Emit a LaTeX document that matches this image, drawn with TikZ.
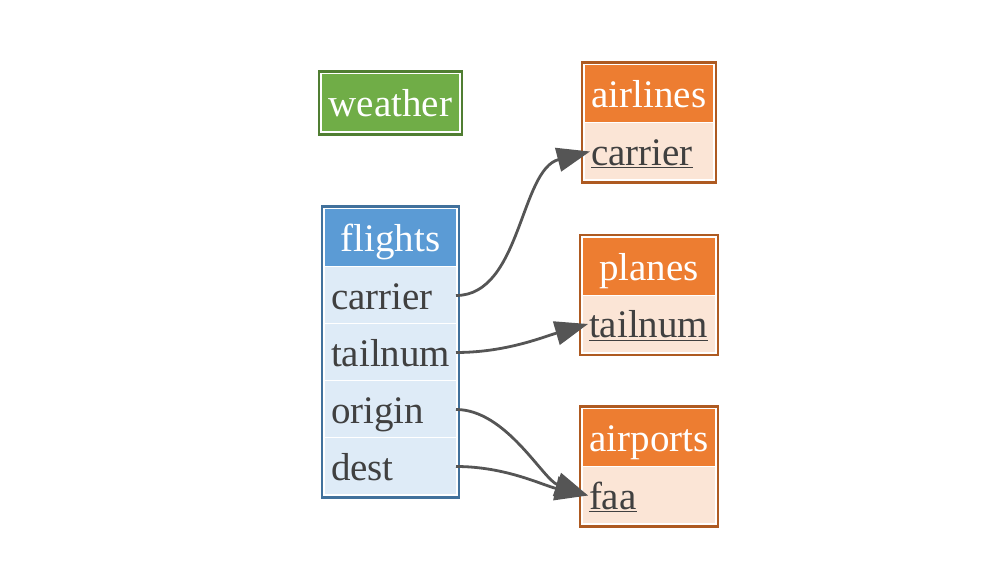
\documentclass[tikz,border=0pt]{standalone}
\usepackage{fontspec}
\setmainfont{Liberation Serif}
\usepackage{tikz}
\usetikzlibrary{arrows.meta, positioning, fit}

\definecolor{wfill}{HTML}{70AD47}
\definecolor{wline}{HTML}{507E32}
\definecolor{fhead}{HTML}{5B9BD5}
\definecolor{fbody}{HTML}{DEEBF7}
\definecolor{fline}{HTML}{41719C}
\definecolor{ohead}{HTML}{ED7D31}
\definecolor{obody}{HTML}{FBE5D6}
\definecolor{oline}{HTML}{AE5A21}
\definecolor{txt}{HTML}{404040}
\definecolor{lnk}{HTML}{555555}

\tikzset{
  cell/.style={rectangle, inner sep=0pt, outer sep=0pt, text height=36pt, text depth=8pt,
    font=\fontsize{39}{44}\selectfont},
  hdr/.style={cell, minimum height=57pt, text=white},
  row/.style={cell, minimum height=56pt, inner xsep=6pt, text width=#1, align=left, text=txt},
  tblbox/.style={draw=#1, line width=2.6pt, inner sep=3pt},
  link/.style={draw=lnk, line width=2.8pt, -{Triangle[length=33pt, width=24pt]}}
}

\begin{document}
\begin{tikzpicture}[x=1pt, y=1pt]
  \useasboundingbox (0,0) rectangle (1000,580);

  % weather
  \node[hdr, fill=wfill, minimum width=137pt] (weather) at (390.5,477) {weather};
  \node[tblbox=wline, fit=(weather)] (weatherbox) {};

  % flights
  \node[hdr, fill=fhead, minimum width=131pt] (flights) at (390.5,342) {flights};
  \node[row=119pt, fill=fbody, below=1pt of flights] (fcarrier) {carrier};
  \node[row=119pt, fill=fbody, below=1pt of fcarrier] (ftailnum) {tailnum};
  \node[row=119pt, fill=fbody, below=1pt of ftailnum] (forigin) {origin};
  \node[row=119pt, fill=fbody, below=1pt of forigin] (fdest) {dest};
  \node[tblbox=fline, fit=(flights)(fdest)] (flightsbox) {};

  % airlines
  \node[hdr, fill=ohead, minimum width=128pt] (airlines) at (649,486) {airlines};
  \node[row=116pt, fill=obody, below=1pt of airlines] (acarrier) {\underline{carrier}};
  \node[tblbox=oline, fit=(airlines)(acarrier)] (airlinesbox) {};

  % planes
  \node[hdr, fill=ohead, minimum width=132pt] (planes) at (649,313.5) {planes};
  \node[row=120pt, fill=obody, below=1pt of planes] (ptailnum) {\underline{tailnum}};
  \node[tblbox=oline, fit=(planes)(ptailnum)] (planesbox) {};

  % airports
  \node[hdr, fill=ohead, minimum width=132pt] (airports) at (649,142) {airports};
  \node[row=120pt, fill=obody, below=1pt of airports] (afaa) {\underline{faa}};
  \node[tblbox=oline, fit=(airports)(afaa)] (airportsbox) {};

  % keys
  \draw[link] (fcarrier.east) .. controls +(65,0) and +(-70,-18) .. ([xshift=5pt]acarrier.west);
  \draw[link] (ftailnum.east) .. controls +(50,0) and +(-45,-13) .. ([xshift=5pt]ptailnum.west);
  \draw[link] (forigin.east) .. controls +(50,0) and +(-45,16) .. ([xshift=5pt]afaa.west);
  \draw[link] (fdest.east) .. controls +(50,0) and +(-45,10) .. ([xshift=5pt]afaa.west);
\end{tikzpicture}
\end{document}
